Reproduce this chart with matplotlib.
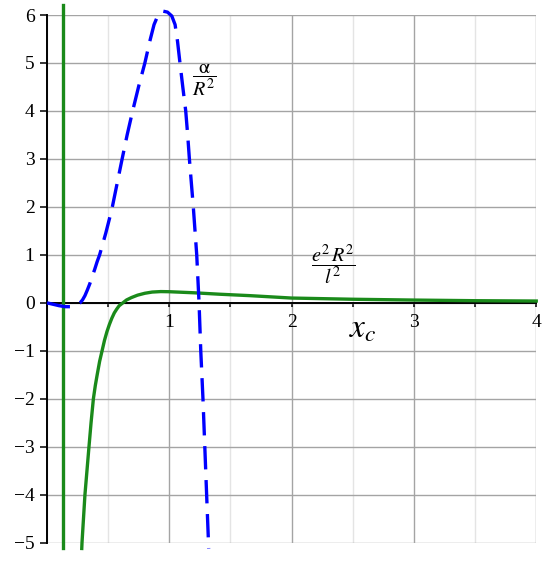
import matplotlib
matplotlib.use("Agg")
import matplotlib.pyplot as plt
from matplotlib.ticker import MultipleLocator

plt.rcParams['font.family'] = ['Liberation Serif', 'DejaVu Serif']
plt.rcParams['mathtext.fontset'] = 'stix'

# alpha / R^2 (blue dashed)
alpha_x = [0.0, 0.05, 0.10, 0.15, 0.20, 0.24, 0.27, 0.29, 0.31, 0.33, 0.35, 0.37,
           0.39, 0.41, 0.43, 0.48, 0.53, 0.57, 0.61, 0.655, 0.70, 0.75, 0.80, 0.84,
           0.875, 0.908, 0.95, 0.985, 1.02, 1.047, 1.067, 1.087, 1.11, 1.134, 1.15,
           1.164, 1.18, 1.196, 1.21, 1.224, 1.243, 1.257, 1.275, 1.29, 1.305, 1.322]
alpha_y = [0.0, -0.03, -0.06, -0.08, -0.08, -0.04, 0.0, 0.06, 0.15, 0.27, 0.4, 0.55,
           0.7, 0.86, 1.0, 1.45, 1.95, 2.45, 2.95, 3.5, 4.0, 4.52, 5.0, 5.45,
           5.8, 6.0, 6.08, 6.06, 5.98, 5.8, 5.45, 5.0, 4.5, 4.0, 3.5,
           3.0, 2.5, 2.0, 1.5, 1.0, 0.0, -1.0, -2.0, -3.0, -4.0, -5.12]

# e^2 R^2 / l^2 (green solid)
e2_x = [0.284, 0.286, 0.31, 0.343, 0.36, 0.379, 0.395, 0.41, 0.43, 0.45, 0.47, 0.49,
        0.51, 0.53, 0.55, 0.57, 0.59, 0.62, 0.65, 0.69, 0.74, 0.80, 0.86, 0.93,
        1.0, 1.2, 1.41, 1.66, 2.0, 2.5, 3.0, 3.5, 4.0]
e2_y = [-5.12, -5.0, -4.0, -3.0, -2.5, -2.0, -1.72, -1.5, -1.22, -1.0, -0.78, -0.6,
        -0.45, -0.32, -0.21, -0.13, -0.06, 0.0, 0.06, 0.11, 0.16, 0.2, 0.225, 0.235,
        0.232, 0.21, 0.18, 0.15, 0.1, 0.075, 0.058, 0.045, 0.038]

# pole of the green curve
pole_x = [0.128, 0.128]
pole_y = [-5.12, 6.2]

green = '#1a8a1a'

fig = plt.figure(figsize=(5.5, 5.62), dpi=100)
ax = fig.add_axes([0.0855, 0.0343, 0.8895, 0.939])
ax.set_xlim(0, 4)
ax.set_ylim(-5, 6)

ax.xaxis.set_major_locator(MultipleLocator(1))
ax.xaxis.set_minor_locator(MultipleLocator(0.5))
ax.yaxis.set_major_locator(MultipleLocator(1))
ax.grid(which='major', color='#a4a4a4', linewidth=1.0)
ax.grid(which='minor', axis='x', color='#e4e4e4', linewidth=1.0)
ax.set_axisbelow(True)

ax.spines['left'].set_position(('data', 0))
ax.spines['bottom'].set_position(('data', 0))
ax.spines['top'].set_visible(False)
ax.spines['right'].set_visible(False)
for s in ('left', 'bottom'):
    ax.spines[s].set_linewidth(1.4)
    ax.spines[s].set_zorder(1)

ax.set_xticks([1, 2, 3, 4])
ax.set_xticklabels(['1', '2', '3', '4'])
ax.tick_params(axis='both', which='both', direction='out', labelsize=14, width=1.1)
ax.tick_params(axis='x', which='both', length=3, pad=5)
ax.tick_params(axis='y', length=5, pad=4)
ax.set_yticks(range(-5, 7))
ax.set_yticklabels(['\u2212' + str(-v) if v < 0 else str(v) for v in range(-5, 7)])

ax.plot(pole_x, pole_y, color=green, linewidth=2.4, clip_on=False, zorder=3)
ax.plot(e2_x, e2_y, color=green, linewidth=2.4, clip_on=False, zorder=3)
ax.plot(alpha_x, alpha_y, color='#0000ff', linewidth=2.4, dashes=(7, 3.2),
        clip_on=False, zorder=4)

ax.text(1.29, 4.64, r'$\dfrac{\mathrm{\alpha}}{R^{2}}$', fontsize=14.5, ha='center', va='center')
ax.text(2.34, 0.79, r'$\dfrac{e^{2}\,R^{2}}{l^{2}}$', fontsize=14.5, ha='center', va='center')
ax.text(2.58, -0.55, r'$x_{c}$', fontsize=24, ha='center', va='center')

fig.savefig('out.png', dpi=100)
